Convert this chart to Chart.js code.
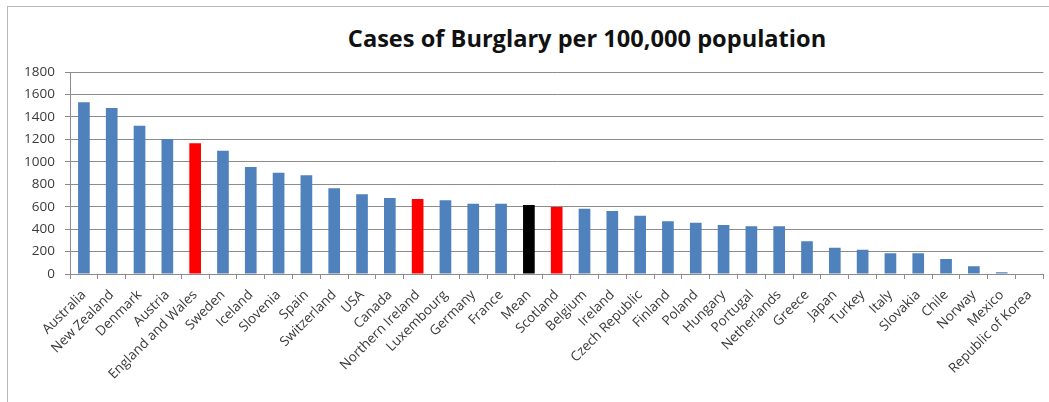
<!DOCTYPE html>
<html>
<head>
<meta charset="utf-8">
<script src="https://cdn.jsdelivr.net/npm/chart.js@4"></script>
<style>
  html, body { margin: 0; padding: 0; background: #fff; overflow: hidden; }
  #wrap { position: relative; width: 1049px; height: 402px; }
  #frame { position: absolute; left: 7px; top: 6px; width: 1100px; height: 420px; border: 1px solid #b8b8b8; box-sizing: border-box; }
  #title { position: absolute; top: 22px; left: 587px; transform: translateX(-50%); white-space: nowrap;
           font-family: "Open Sans", sans-serif; font-weight: bold; font-size: 23.6px; color: #111; }
  canvas { position: absolute; left: 0; top: 0; }
</style>
</head>
<body>
<div id="wrap">
  <div id="frame"></div>
  <div id="title">Cases of Burglary per 100,000 population</div>
  <canvas id="myChart" width="1049" height="402"></canvas>
</div>
<script>
// countries in the order shown, with burglary cases per 100,000 population
var countries = ['Australia', 'New Zealand', 'Denmark', 'Austria', 'England and Wales', 'Sweden', 'Iceland',
  'Slovenia', 'Spain', 'Switzerland', 'USA', 'Canada', 'Northern Ireland', 'Luxembourg', 'Germany', 'France',
  'Mean', 'Scotland', 'Belgium', 'Ireland', 'Czech Republic', 'Finland', 'Poland', 'Hungary', 'Portugal',
  'Netherlands', 'Greece', 'Japan', 'Turkey', 'Italy', 'Slovakia', 'Chile', 'Norway', 'Mexico', 'Republic of Korea'];
var burglaryRates = [1530, 1480, 1322, 1203, 1165, 1099, 954,
  903, 880, 764, 710, 677, 668, 657, 627, 627,
  615, 597, 582, 561, 520, 470, 457, 437, 425,
  425, 291, 235, 217, 184, 184, 134, 69, 15, 0];
var ukNations = ['England and Wales', 'Northern Ireland', 'Scotland'];
var meanLabel = 'Mean';
var yTicks = [0, 200, 400, 600, 800, 1000, 1200, 1400, 1600, 1800];

// couleurs : bleu par défaut, rouge pour le Royaume-Uni, noir pour la moyenne
var barColours = countries.map(function (c) {
  if (c === meanLabel) return '#000000';
  if (ukNations.indexOf(c) >= 0) return '#ff0000';
  return '#4f81bd';
});

var ctx = document.getElementById('myChart').getContext('2d');
var chart = new Chart(ctx, {
  type: 'bar',
  data: {
    labels: countries,
    datasets: [{
      data: burglaryRates,
      backgroundColor: barColours,
      borderWidth: 0,
      barPercentage: 0.42,
      categoryPercentage: 1
    }]
  },
  options: {
    responsive: false,
    animation: false,
    layout: { padding: { top: 72, right: 4, left: 0, bottom: 0 } },
    plugins: { legend: { display: false }, tooltip: { enabled: false }, title: { display: false } },
    scales: {
      x: {
        grid: { offset: true, drawOnChartArea: false, drawTicks: true, tickLength: 5, color: '#8c8c8c' },
        border: { color: '#8c8c8c' },
        ticks: {
          autoSkip: false, maxRotation: 45, minRotation: 45, padding: 8,
          color: '#3a3a3a', font: { family: 'Open Sans', size: 13.5 }
        },
        afterFit: function (scale) { scale.height = 128; }
      },
      y: {
        min: 0, max: 1800,
        afterBuildTicks: function (scale) { scale.ticks = yTicks.map(function (v) { return { value: v }; }); },
        grid: { color: '#8c8c8c', tickLength: 5 },
        border: { color: '#8c8c8c' },
        ticks: {
          color: '#3a3a3a', padding: 10, font: { family: 'Open Sans', size: 13.5 },
          callback: function (v) { return String(v); }
        },
        afterFit: function (scale) { scale.width = 70; }
      }
    }
  }
});
</script>
</body>
</html>
